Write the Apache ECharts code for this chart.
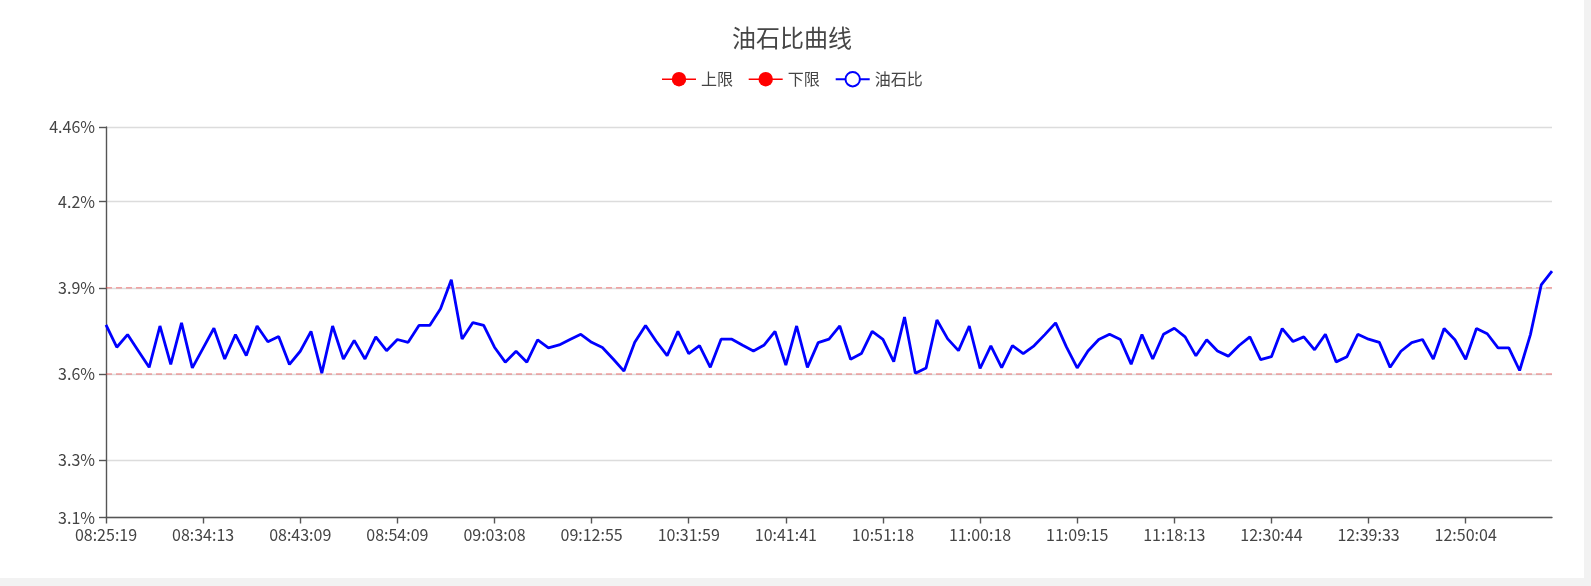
<!DOCTYPE html>
<html>
<head>
<meta charset="utf-8">
<script src="https://cdn.jsdelivr.net/npm/echarts@6/dist/echarts.min.js"></script>
<style>
html,body{margin:0;padding:0;background:#f2f2f2;}
#chart{width:1584px;height:578px;background:#fff;}
</style>
</head>
<body>
<div id="chart"></div>
<script>
var titleText = '油石比曲线';
var seriesNames = ['上限', '下限', '油石比'];
var upperLimit = 3.9;
var lowerLimit = 3.6;
var yMin = 3.1;
var yMax = 4.46;

var times = [
'08:25:19','08:26:18','08:27:18','08:28:17','08:29:16','08:30:16','08:31:15','08:32:14','08:33:14',
'08:34:13','08:35:13','08:36:12','08:37:12','08:38:11','08:39:11','08:40:10','08:41:10','08:42:09',
'08:43:09','08:44:22','08:45:36','08:46:49','08:48:02','08:49:16','08:50:29','08:51:43','08:52:56',
'08:54:09','08:55:09','08:56:09','08:57:09','08:58:09','08:59:09','09:00:08','09:01:08','09:02:08',
'09:03:08','09:04:13','09:05:18','09:06:24','09:07:29','09:08:34','09:09:39','09:10:45','09:11:50',
'09:12:55','09:13:55','09:14:55','09:15:56','10:27:03','10:28:02','10:29:02','10:30:01','10:31:00',
'10:31:59','10:33:04','10:34:08','10:35:13','10:36:18','10:37:22','10:38:27','10:39:32','10:40:36',
'10:41:41','10:42:45','10:43:49','10:44:53','10:45:58','10:47:02','10:48:06','10:49:10','10:50:14',
'10:51:18','10:52:18','10:53:18','10:54:18','10:55:18','10:56:18','10:57:18','10:58:18','10:59:18',
'11:00:18','11:01:18','11:02:17','11:03:17','11:04:17','11:05:16','11:06:16','11:07:16','11:08:15',
'11:09:15','11:10:15','11:11:14','11:12:14','11:13:14','11:14:14','11:15:13','11:16:13','11:17:13',
'11:18:13','11:19:13','11:20:12','11:21:12','12:25:47','12:26:46','12:27:45','12:28:45','12:29:44',
'12:30:44','12:31:43','12:32:42','12:33:40','12:34:39','12:35:38','12:36:37','12:37:36','12:38:34',
'12:39:33','12:40:43','12:41:53','12:43:03','12:44:14','12:45:24','12:46:34','12:47:44','12:48:54',
'12:50:04','12:51:04','12:52:04','12:53:05','12:54:05','12:55:05','12:56:06','12:57:06','12:58:06'
];

var ratioValues = [
3.771,3.693,3.737,3.680,3.623,3.767,3.633,3.778,3.621,
3.690,3.759,3.652,3.737,3.664,3.767,3.712,3.730,3.633,
3.679,3.748,3.603,3.767,3.652,3.717,3.652,3.729,3.681,
3.720,3.710,3.769,3.769,3.827,3.928,3.722,3.779,3.769,
3.693,3.641,3.679,3.641,3.719,3.691,3.701,3.720,3.738,
3.710,3.692,3.652,3.610,3.710,3.769,3.713,3.664,3.748,
3.671,3.699,3.623,3.721,3.721,3.700,3.680,3.701,3.748,
3.631,3.767,3.623,3.709,3.721,3.767,3.651,3.671,3.748,
3.720,3.643,3.798,3.602,3.621,3.788,3.722,3.681,3.767,
3.619,3.698,3.622,3.699,3.671,3.698,3.737,3.778,3.694,
3.621,3.680,3.720,3.738,3.720,3.634,3.737,3.652,3.738,
3.759,3.729,3.663,3.719,3.680,3.662,3.699,3.729,3.650,
3.660,3.758,3.713,3.729,3.684,3.738,3.642,3.660,3.738,
3.721,3.710,3.623,3.679,3.709,3.720,3.652,3.758,3.719,
3.651,3.758,3.740,3.691,3.691,3.612,3.737,3.910,3.958
];

var upperValues = times.map(function(){ return upperLimit; });
var lowerValues = times.map(function(){ return lowerLimit; });

var chart = echarts.init(document.getElementById('chart'));
var labelColor = '#444';
var limitLine = {color: 'rgba(240,60,60,0.45)', width: 1.4, type: [6, 4]};

chart.setOption({
  animation: false,
  title: {
    text: titleText,
    left: 'center',
    top: 26,
    padding: 0,
    textStyle: {fontSize: 24, fontWeight: 'normal', color: '#464646',
      fontFamily: '"Noto Sans CJK SC", sans-serif'}
  },
  legend: {
    top: 66,
    left: 'center',
    itemWidth: 34,
    itemHeight: 18,
    itemGap: 15,
    textStyle: {fontSize: 16, color: '#444', fontFamily: '"Noto Sans CJK SC", sans-serif'},
    data: [
      {name: seriesNames[0], lineStyle: {color: 'red', type: 'solid', width: 1.4, opacity: 1}},
      {name: seriesNames[1], lineStyle: {color: 'red', type: 'solid', width: 1.4, opacity: 1}},
      {name: seriesNames[2]}
    ]
  },
  grid: {left: 106, right: 32, top: 127, bottom: 60.5, containLabel: false},
  xAxis: {
    type: 'category',
    boundaryGap: false,
    data: times,
    axisLine: {lineStyle: {color: '#555', width: 1.4}},
    axisTick: {interval: 8, length: 6, lineStyle: {color: '#555', width: 1.4}},
    axisLabel: {interval: 8, margin: 9, fontSize: 16, color: labelColor,
      fontFamily: '"Noto Sans CJK SC", sans-serif'}
  },
  yAxis: {
    type: 'value',
    min: yMin,
    max: yMax,
    axisLine: {show: true, lineStyle: {color: '#555', width: 1.4}},
    axisTick: {show: true, length: 7, lineStyle: {color: '#555', width: 1.4}},
    axisLabel: {formatter: '{value}%', margin: 11, fontSize: 16, color: labelColor,
      fontFamily: '"Noto Sans CJK SC", sans-serif'},
    splitLine: {lineStyle: {color: '#dcdcdc', width: 1.4}}
  },
  series: [
    {name: seriesNames[0], type: 'line', data: upperValues, symbol: 'circle', showSymbol: false,
      itemStyle: {color: 'red'}, lineStyle: limitLine, silent: true},
    {name: seriesNames[1], type: 'line', data: lowerValues, symbol: 'circle', showSymbol: false,
      itemStyle: {color: 'red'}, lineStyle: limitLine, silent: true},
    {name: seriesNames[2], type: 'line', data: ratioValues, symbol: 'emptyCircle', showSymbol: false,
      itemStyle: {color: 'blue'}, lineStyle: {color: 'blue', width: 2.8}, z: 5}
  ]
});
</script>
</body>
</html>
